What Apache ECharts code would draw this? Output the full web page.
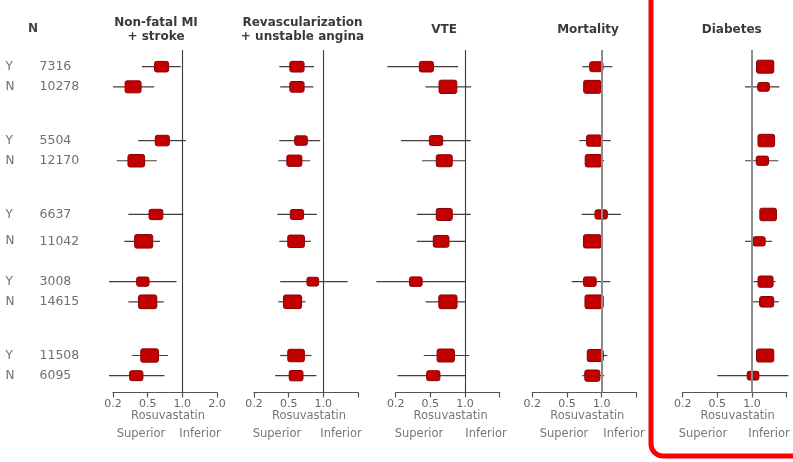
<!DOCTYPE html>
<html>
<head>
<meta charset="utf-8">
<script src="https://cdn.jsdelivr.net/npm/echarts@6/dist/echarts.min.js"></script>
<style>
  html, body { margin: 0; padding: 0; background: #ffffff; }
  #chart { width: 793px; height: 462px; }
</style>
</head>
<body>
<div id="chart"></div>
<script>
// ---- Subgroups (rows) ----
const subgroupFlag = ['Y', 'N', 'Y', 'N', 'Y', 'N', 'Y', 'N', 'Y', 'N'];
const subgroupN = [7316, 10278, 5504, 12170, 6637, 11042, 3008, 14615, 11508, 6095];

// ---- Outcomes (panels) ----
const outcomeTitles = [
  'Non-fatal MI\n+ stroke',
  'Revascularization\n+ unstable angina',
  'VTE',
  'Mortality',
  'Diabetes'
];

// ---- Hazard-ratio axis ----
const tickValues = [0.2, 0.5, 1.0, 2.0];
const tickLabels = [
  ['0.2', '0.5', '1.0', '2.0'],
  ['0.2', '0.5', '1.0', ''],
  ['0.2', '0.5', '1.0', ''],
  ['0.2', '0.5', '1.0', ''],
  ['0.2', '0.5', '1.0', '']
];
const referenceHR = 1.0;
const axisTitle = 'Rosuvastatin';
const sideLabels = ['Superior', 'Inferior'];

// ---- Hazard ratios with 95% CI, and relative weight of each estimate ----
const miEst    = [0.66, 0.34, 0.67, 0.37, 0.59, 0.45, 0.44, 0.50, 0.52, 0.37];
const miLow    = [0.43, 0.20, 0.39, 0.22, 0.30, 0.27, 0.18, 0.30, 0.33, 0.18];
const miHigh   = [0.97, 0.57, 1.07, 0.60, 1.02, 0.64, 0.89, 0.69, 0.75, 0.70];
const miWeight = [0.88, 1.00, 0.88, 1.04, 0.86, 1.13, 0.77, 1.14, 1.11, 0.83];

const revEst    = [0.59, 0.59, 0.64, 0.56, 0.59, 0.58, 0.81, 0.54, 0.58, 0.58];
const revLow    = [0.39, 0.40, 0.39, 0.38, 0.37, 0.39, 0.40, 0.38, 0.40, 0.35];
const revHigh   = [0.83, 0.82, 0.94, 0.77, 0.88, 0.78, 1.63, 0.70, 0.79, 0.87];
const revWeight = [0.89, 0.89, 0.79, 0.94, 0.83, 1.04, 0.73, 1.13, 1.04, 0.86];

const vteEst    = [0.45, 0.71, 0.56, 0.66, 0.66, 0.62, 0.34, 0.71, 0.68, 0.53];
const vteLow    = [0.16, 0.44, 0.23, 0.40, 0.35, 0.35, 0.12, 0.44, 0.42, 0.21];
const vteHigh   = [0.87, 1.13, 1.12, 1.00, 1.12, 1.00, 1.00, 1.00, 1.09, 1.00];
const vteWeight = [0.88, 1.11, 0.83, 1.00, 1.00, 0.98, 0.79, 1.14, 1.08, 0.83];

const mortEst    = [0.90, 0.83, 0.86, 0.85, 0.99, 0.83, 0.79, 0.86, 0.88, 0.83];
const mortLow    = [0.68, 0.77, 0.64, 0.72, 0.67, 0.77, 0.55, 0.77, 0.76, 0.68];
const mortHigh   = [1.24, 0.90, 1.20, 1.05, 1.47, 0.90, 1.19, 0.97, 1.12, 1.05];
const mortWeight = [0.83, 1.08, 0.94, 1.04, 0.77, 1.11, 0.79, 1.14, 1.00, 0.94];

const diabEst    = [1.30, 1.26, 1.33, 1.23, 1.38, 1.15, 1.31, 1.34, 1.30, 1.02];
const diabLow    = [1.20, 0.87, 1.22, 0.87, 1.26, 0.87, 1.03, 1.01, 1.19, 0.50];
const diabHigh   = [1.40, 1.73, 1.45, 1.69, 1.50, 1.49, 1.60, 1.71, 1.42, 2.07];
const diabWeight = [1.08, 0.73, 1.04, 0.77, 1.04, 0.77, 0.94, 0.88, 1.08, 0.73];

const panels = [
  { est: miEst,   low: miLow,   high: miHigh,   weight: miWeight },
  { est: revEst,  low: revLow,  high: revHigh,  weight: revWeight },
  { est: vteEst,  low: vteLow,  high: vteHigh,  weight: vteWeight },
  { est: mortEst, low: mortLow, high: mortHigh, weight: mortWeight },
  { est: diabEst, low: diabLow, high: diabHigh, weight: diabWeight }
];

// ---- Layout ----
const FONT = '"DejaVu Sans", "Liberation Sans", sans-serif';
const PANEL_LEFT = [113, 254, 395.7, 532.3, 682.7];
const PANEL_WIDTH = 104;
const GRID_TOP = 49.9;
const SLOT_PX = 6.717;
const PAD_SLOTS = 2;
const ROW_SLOT = [0, 3, 11, 14, 22, 26, 32, 35, 43, 46];   // vertical slot of each row
const TOTAL_SLOTS = PAD_SLOTS * 2 + 47;
const TITLE_X = [156, 302.5, 444, 588, 731.7];
const SIDE_X = [[141, 200], [277, 341], [419, 486], [564, 624], [703, 769]];
const REF_STYLE = [
  { color: '#3a3a3a', width: 1.1 },
  { color: '#3a3a3a', width: 1.1 },
  { color: '#3a3a3a', width: 1.1 },
  { color: '#8c8c8c', width: 2 },
  { color: '#8c8c8c', width: 2 }
];
const BOX_PX = 16;

// Piecewise-logarithmic position between the labelled ticks (equally spaced)
function toAxis(hr) {
  const s = hr < tickValues[1] ? 0 : (hr < tickValues[2] ? 1 : 2);
  const a = tickValues[s], b = tickValues[s + 1];
  return s + Math.log(hr / a) / Math.log(b / a);
}

const slotNames = [];
for (let i = 0; i < TOTAL_SLOTS; i++) slotNames.push('slot' + i);
const rowOfSlot = {};
ROW_SLOT.forEach((s, i) => { rowOfSlot[s + PAD_SLOTS] = i; });

const grids = [], xAxes = [], yAxes = [], series = [];

panels.forEach((p, k) => {
  grids.push({
    left: PANEL_LEFT[k],
    top: GRID_TOP,
    width: PANEL_WIDTH,
    height: SLOT_PX * TOTAL_SLOTS
  });
  xAxes.push({
    gridIndex: k,
    type: 'value',
    min: 0,
    max: tickValues.length - 1,
    interval: 1,
    axisLine: { show: true, lineStyle: { color: '#555', width: 1.2 } },
    axisTick: { show: true, length: 5, lineStyle: { color: '#555', width: 1.2 } },
    splitLine: { show: false },
    axisLabel: {
      margin: 6,
      color: '#666',
      fontFamily: FONT,
      fontSize: 11,
      showMinLabel: true,
      showMaxLabel: true,
      formatter: v => tickLabels[k][Math.round(v)] || ''
    }
  });
  yAxes.push({
    gridIndex: k,
    type: 'category',
    inverse: true,
    data: slotNames,
    boundaryGap: true,
    axisLine: { show: false },
    axisTick: { show: false },
    splitLine: { show: false },
    axisLabel: k === 0 ? {
      show: true,
      interval: 0,
      align: 'left',
      margin: PANEL_LEFT[0] - 5.5,
      formatter: (val, idx) => {
        const r = rowOfSlot[idx];
        if (r === undefined) return '';
        return '{f|' + subgroupFlag[r] + '}{n|' + subgroupN[r] + '}';
      },
      rich: {
        f: { width: 34, align: 'left', fontFamily: FONT, fontSize: 12, color: '#707070' },
        n: { align: 'left', fontFamily: FONT, fontSize: 12.5, color: '#707070' }
      }
    } : { show: false }
  });

  // reference line at HR = 1
  series.push({
    type: 'scatter',
    xAxisIndex: k,
    yAxisIndex: k,
    data: [],
    silent: true,
    markLine: {
      silent: true,
      symbol: 'none',
      label: { show: false },
      lineStyle: { type: 'solid', color: REF_STYLE[k].color, width: REF_STYLE[k].width },
      data: [{ xAxis: toAxis(referenceHR) }]
    }
  });

  // confidence intervals and weighted boxes
  const items = p.est.map((e, i) => [
    toAxis(p.low[i]), toAxis(p.high[i]), toAxis(e), ROW_SLOT[i] + PAD_SLOTS, p.weight[i]
  ]);
  series.push({
    type: 'custom',
    xAxisIndex: k,
    yAxisIndex: k,
    clip: false,
    silent: true,
    data: items,
    encode: { x: [0, 1, 2], y: 3 },
    renderItem: (params, api) => {
      const slot = api.value(3);
      const pl = api.coord([api.value(0), slot]);
      const ph = api.coord([api.value(1), slot]);
      const pe = api.coord([api.value(2), slot]);
      const w = BOX_PX * api.value(4);
      const h = w * 0.75;
      return {
        type: 'group',
        children: [
          {
            type: 'line',
            shape: { x1: pl[0], y1: pl[1], x2: ph[0], y2: ph[1] },
            style: { stroke: '#4d3a3a', lineWidth: 1.2 }
          },
          {
            type: 'rect',
            shape: { x: pe[0] - w / 2, y: pe[1] - h / 2, width: w, height: h, r: 2 },
            style: { fill: '#c20000', stroke: '#8a0000', lineWidth: 1 }
          }
        ]
      };
    }
  });
});

// Titles and axis captions
const graphics = [];
outcomeTitles.forEach((t, k) => {
  graphics.push({
    type: 'text', x: TITLE_X[k], y: 29.5, silent: true,
    style: {
      text: t, fill: '#3a3a3a', fontFamily: FONT, fontSize: 12, fontWeight: 'bold',
      lineHeight: 14, align: 'center', verticalAlign: 'middle'
    }
  });
  graphics.push({
    type: 'text', x: PANEL_LEFT[k] + 55, y: 416.5, silent: true,
    style: {
      text: axisTitle, fill: '#777', fontFamily: FONT, fontSize: 11.5,
      align: 'center', verticalAlign: 'middle'
    }
  });
  sideLabels.forEach((s, j) => {
    graphics.push({
      type: 'text', x: SIDE_X[k][j], y: 434.5, silent: true,
      style: {
        text: s, fill: '#777', fontFamily: FONT, fontSize: 11.5,
        align: 'center', verticalAlign: 'middle'
      }
    });
  });
});
graphics.push({
  type: 'text', x: 33, y: 28.5, silent: true,
  style: {
    text: 'N', fill: '#444', fontFamily: FONT, fontSize: 12, fontWeight: 'bold',
    align: 'center', verticalAlign: 'middle'
  }
});
// highlight frame around the last panel
graphics.push({
  type: 'rect', silent: true, z: 10,
  shape: { x: 651, y: -20, width: 170, height: 476, r: 12 },
  style: { fill: 'none', stroke: '#ff0000', lineWidth: 5 }
});

const chart = echarts.init(document.getElementById('chart'), null, { renderer: 'canvas' });
chart.setOption({
  animation: false,
  backgroundColor: '#ffffff',
  grid: grids,
  xAxis: xAxes,
  yAxis: yAxes,
  series: series,
  graphic: graphics
});
</script>
</body>
</html>
